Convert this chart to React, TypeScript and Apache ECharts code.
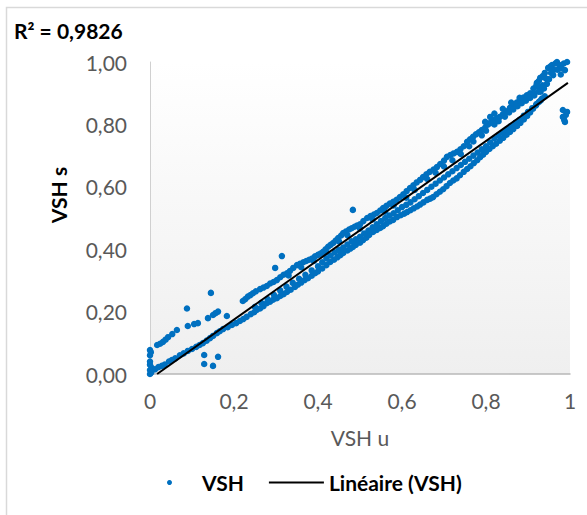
import React, { useEffect, useRef } from "react";
import * as echarts from "echarts";

const xTickLabels = ["0", "0,2", "0,4", "0,6", "0,8", "1"];
const yTickLabels = ["0,00", "0,20", "0,40", "0,60", "0,80", "1,00"];

const lowerBand: number[][] = [
  [0.004,0.02],[0.012,0.015],[0.02,0.022],[0.028,0.026],[0.035,0.03],[0.045,0.04],[0.052,0.045],[0.06,0.05],[0.071,0.06],[0.08,0.066],
  [0.09,0.074],[0.1,0.08],[0.11,0.087],[0.118,0.093],[0.126,0.099],[0.135,0.107],[0.143,0.115],[0.15,0.122],[0.159,0.131],[0.166,0.137],
  [0.174,0.144],[0.185,0.15],[0.195,0.157],[0.205,0.163],[0.214,0.17],[0.222,0.176],[0.23,0.183],[0.24,0.192],[0.248,0.198],[0.254,0.205],
  [0.262,0.21],[0.27,0.217],[0.278,0.227],[0.286,0.232],[0.293,0.238],[0.302,0.243],[0.31,0.25],[0.318,0.256],[0.326,0.263],[0.335,0.27],
  [0.345,0.279],[0.352,0.286],[0.36,0.293],[0.368,0.301],[0.376,0.307],[0.385,0.315],[0.393,0.323],[0.4,0.329],[0.41,0.338],[0.42,0.349],
  [0.429,0.359],[0.438,0.366],[0.446,0.374],[0.453,0.381],[0.46,0.388],[0.47,0.396],[0.477,0.402],[0.483,0.407],[0.49,0.414],[0.5,0.421],
  [0.507,0.429],[0.515,0.437],[0.522,0.446],[0.531,0.455],[0.54,0.462],[0.548,0.468],[0.555,0.474],[0.563,0.482],[0.571,0.489],[0.579,0.494],
  [0.588,0.503],[0.597,0.509],[0.605,0.514],[0.612,0.519],[0.62,0.525],[0.628,0.531],[0.636,0.537],[0.643,0.543],[0.651,0.55],[0.66,0.558],
  [0.667,0.562],[0.674,0.567],[0.682,0.576],[0.69,0.584],[0.698,0.592],[0.706,0.602],[0.714,0.612],[0.722,0.62],[0.73,0.627],[0.738,0.637],
  [0.747,0.648],[0.755,0.657],[0.763,0.666],[0.771,0.676],[0.779,0.685],[0.786,0.695],[0.793,0.703],[0.8,0.712],[0.808,0.721],[0.816,0.73],
  [0.824,0.738],[0.833,0.748],[0.841,0.757],[0.849,0.767],[0.857,0.776],[0.865,0.785],[0.874,0.795],[0.882,0.805],[0.89,0.816],[0.898,0.827],
  [0.905,0.838],[0.912,0.85],[0.919,0.861],[0.926,0.872],[0.933,0.883]
];

const middleBand: number[][] = [
  [0.25,0.215],[0.265,0.228],[0.28,0.24],[0.295,0.254],[0.31,0.268],[0.325,0.28],[0.34,0.292],[0.355,0.305],[0.37,0.318],[0.385,0.332],
  [0.4,0.345],[0.41,0.358],[0.42,0.37],[0.43,0.38],[0.44,0.39],[0.45,0.398],[0.46,0.405],[0.47,0.415],[0.48,0.425],[0.49,0.432],
  [0.5,0.44],[0.51,0.45],[0.52,0.46],[0.53,0.47],[0.54,0.48],[0.55,0.49],[0.56,0.5],[0.57,0.508],[0.58,0.515],[0.59,0.525],
  [0.6,0.535],[0.61,0.542],[0.62,0.55],[0.63,0.56],[0.64,0.57],[0.65,0.58],[0.66,0.59],[0.67,0.6],[0.68,0.61],[0.69,0.62],
  [0.7,0.63],[0.71,0.64],[0.72,0.65],[0.73,0.66],[0.74,0.67],[0.75,0.68],[0.76,0.69],[0.77,0.7],[0.78,0.71],[0.79,0.72],
  [0.8,0.73],[0.81,0.742],[0.82,0.755],[0.83,0.765],[0.84,0.775],[0.85,0.785],[0.86,0.795],[0.87,0.805],[0.88,0.815],[0.89,0.828],
  [0.9,0.84],[0.91,0.852],[0.92,0.865],[0.93,0.877],[0.94,0.89]
];

const upperBand: number[][] = [
  [0.0,0.077],[0.0,0.06],[0.0,0.04],[0.0,0.03],[0.0,0.013],[0.0,0.0],[0.002,0.07],[0.003,0.005],[0.017,0.093],[0.024,0.097],
  [0.031,0.103],[0.037,0.11],[0.043,0.118],[0.053,0.128],[0.064,0.141],[0.09,0.154],[0.105,0.16],[0.114,0.163],[0.138,0.179],[0.15,0.189],
  [0.156,0.195],[0.162,0.2],[0.183,0.186],[0.221,0.234],[0.227,0.24],[0.233,0.248],[0.239,0.253],[0.245,0.259],[0.252,0.265],[0.262,0.272],
  [0.27,0.277],[0.278,0.282],[0.286,0.29],[0.294,0.295],[0.302,0.301],[0.31,0.31],[0.318,0.318],[0.326,0.323],[0.333,0.33],[0.341,0.34],
  [0.35,0.349],[0.357,0.353],[0.365,0.358],[0.372,0.362],[0.379,0.366],[0.386,0.37],[0.393,0.377],[0.4,0.382],[0.406,0.386],[0.412,0.392],
  [0.418,0.4],[0.424,0.408],[0.43,0.414],[0.436,0.42],[0.442,0.428],[0.448,0.436],[0.455,0.444],[0.46,0.452],[0.467,0.457],[0.474,0.463],
  [0.48,0.467],[0.487,0.472],[0.493,0.476],[0.5,0.48],[0.508,0.49],[0.517,0.5],[0.525,0.506],[0.533,0.511],[0.54,0.516],[0.548,0.524],
  [0.555,0.532],[0.563,0.539],[0.571,0.546],[0.579,0.552],[0.587,0.558],[0.595,0.567],[0.603,0.576],[0.611,0.586],[0.619,0.596],[0.627,0.605],
  [0.635,0.614],[0.643,0.622],[0.65,0.631],[0.658,0.64],[0.666,0.648],[0.675,0.655],[0.683,0.663],[0.691,0.673],[0.7,0.684],[0.707,0.696],
  [0.715,0.702],[0.723,0.707],[0.731,0.712],[0.739,0.72],[0.747,0.73],[0.755,0.744],[0.762,0.752],[0.769,0.76],[0.776,0.768],[0.783,0.775],
  [0.79,0.782],[0.798,0.79],[0.805,0.8],[0.812,0.808],[0.819,0.815],[0.826,0.82],[0.833,0.824],[0.84,0.832],[0.848,0.842],[0.857,0.853],
  [0.865,0.862],[0.873,0.87],[0.881,0.878],[0.889,0.886],[0.897,0.893],[0.905,0.9],[0.913,0.915],[0.921,0.933],[0.926,0.94],[0.929,0.949],
  [0.935,0.955],[0.94,0.965],[0.948,0.981],[0.953,0.985],[0.957,0.99],[0.962,0.975],[0.965,0.995],[0.969,1.0],[0.975,0.99],[0.98,0.98],
  [0.985,0.995],[0.988,0.974],[0.993,1.0],[0.96,0.958],[0.95,0.945],[0.945,0.93],[0.938,0.915],[0.93,0.905],[0.925,0.92],[0.915,0.9]
];

const upperBlob: number[][] = [
  [0.33,0.316],[0.36,0.342],[0.39,0.362],[0.42,0.39],[0.45,0.425],[0.47,0.445],[0.5,0.466],[0.53,0.495],[0.56,0.52],[0.58,0.54],
  [0.61,0.565],[0.63,0.59],[0.66,0.625],[0.68,0.645],[0.7,0.665],[0.72,0.685],[0.74,0.705],[0.76,0.73],[0.77,0.745],[0.79,0.765],
  [0.8,0.78],[0.82,0.8],[0.83,0.81],[0.845,0.825],[0.855,0.838],[0.865,0.848],[0.875,0.858],[0.885,0.868],[0.895,0.876],[0.905,0.885],
  [0.915,0.893],[0.925,0.905],[0.935,0.925],[0.945,0.945],[0.955,0.965],[0.97,0.975],[0.978,0.96],[0.94,0.95],[0.92,0.925],[0.88,0.885],
  [0.86,0.87],[0.84,0.85],[0.82,0.835]
];

const outliers: number[][] = [
  [0.088,0.21],[0.145,0.26],[0.129,0.061],[0.129,0.032],[0.15,0.026],[0.162,0.055],[0.314,0.378],[0.298,0.34],[0.483,0.526],
  [0.81,0.824],[0.817,0.804],[0.798,0.808],[0.983,0.846],[0.993,0.84],[0.988,0.808],[0.983,0.824],[0.99,0.83],[0.986,0.815]
];

const trendLine: number[][] = [[0.017, 0], [0.995, 0.933]];

const r2Text = "R² = 0,9826";

export default function App() {
  const ref = useRef<HTMLDivElement>(null);
  useEffect(() => {
    if (!ref.current) return;
    const chart = echarts.init(ref.current, null, { renderer: "svg" });
    const scatterData = [...lowerBand, ...middleBand, ...upperBand, ...upperBlob, ...outliers];
    const font = "Lato, 'Open Sans', sans-serif";
    chart.setOption({
      animation: false,
      backgroundColor: "#ffffff",
      textStyle: { fontFamily: font },
      grid: {
        left: 150,
        top: 62,
        right: 17,
        bottom: 141,
        show: true,
        borderWidth: 0,
        backgroundColor: new echarts.graphic.LinearGradient(0, 0, 0, 1, [
          { offset: 0, color: "#ffffff" },
          { offset: 1, color: "#efefef" },
        ]),
      },
      xAxis: {
        type: "value",
        min: 0,
        max: 1,
        interval: 0.2,
        name: "VSH u",
        nameLocation: "middle",
        nameGap: 53,
        nameTextStyle: { color: "#595959", fontSize: 21, fontFamily: font },
        axisLine: { show: true, lineStyle: { color: "#b8b8b8", width: 1.5 } },
        axisTick: { show: false },
        splitLine: { show: false },
        axisLabel: {
          color: "#595959",
          fontSize: 21,
          margin: 16,
          formatter: (v: number) => xTickLabels[Math.round(v / 0.2)],
        },
      },
      yAxis: {
        type: "value",
        min: 0,
        max: 1,
        interval: 0.2,
        axisLine: { show: true, lineStyle: { color: "#d0d0d0", width: 1 } },
        axisTick: { show: false },
        splitLine: { show: false },
        axisLabel: {
          color: "#595959",
          fontSize: 21,
          margin: 23,
          formatter: (v: number) => yTickLabels[Math.round(v / 0.2)],
        },
      },
      legend: {
        left: 162,
        top: 467,
        itemWidth: 55,
        itemHeight: 5,
        itemGap: 24,
        textStyle: { color: "#000000", fontSize: 21, fontWeight: "bold", fontFamily: font },
        data: [
          { name: "VSH", icon: "circle" },
          {
            name: "Linéaire (VSH)",
            itemStyle: { color: "rgba(0,0,0,0)", opacity: 0 },
            lineStyle: { color: "#000000", width: 2 },
          },
        ],
      },
      graphic: [
        {
          type: "rect",
          shape: { x: 6.5, y: 7.5, width: 620, height: 620 },
          style: { fill: "none", stroke: "#d9d9d9", lineWidth: 1.5 },
          silent: true,
          z: -10,
        },
        {
          type: "text",
          x: 14,
          y: 30,
          style: {
            text: r2Text,
            fill: "#000000",
            font: `bold 21px ${font}`,
            verticalAlign: "middle",
          },
        },
        {
          type: "text",
          x: 58,
          y: 195,
          rotation: Math.PI / 2,
          style: {
            text: "VSH s",
            fill: "#000000",
            font: `bold 21px ${font}`,
            align: "center",
            verticalAlign: "middle",
          },
        },
      ],
      series: [
        {
          name: "VSH",
          type: "scatter",
          data: scatterData,
          symbol: "circle",
          symbolSize: 6.5,
          itemStyle: { color: "#0070C0", opacity: 1 },
          z: 2,
        },
        {
          name: "Linéaire (VSH)",
          type: "line",
          data: trendLine,
          symbol: "none",
          lineStyle: { color: "#000000", width: 2 },
          itemStyle: { color: "#000000" },
          z: 3,
        },
      ],
    });
    return () => chart.dispose();
  }, []);
  return (
    <div
      ref={ref}
      style={{ position: "absolute", left: 0, top: 0, width: 587, height: 515 }}
    />
  );
}
